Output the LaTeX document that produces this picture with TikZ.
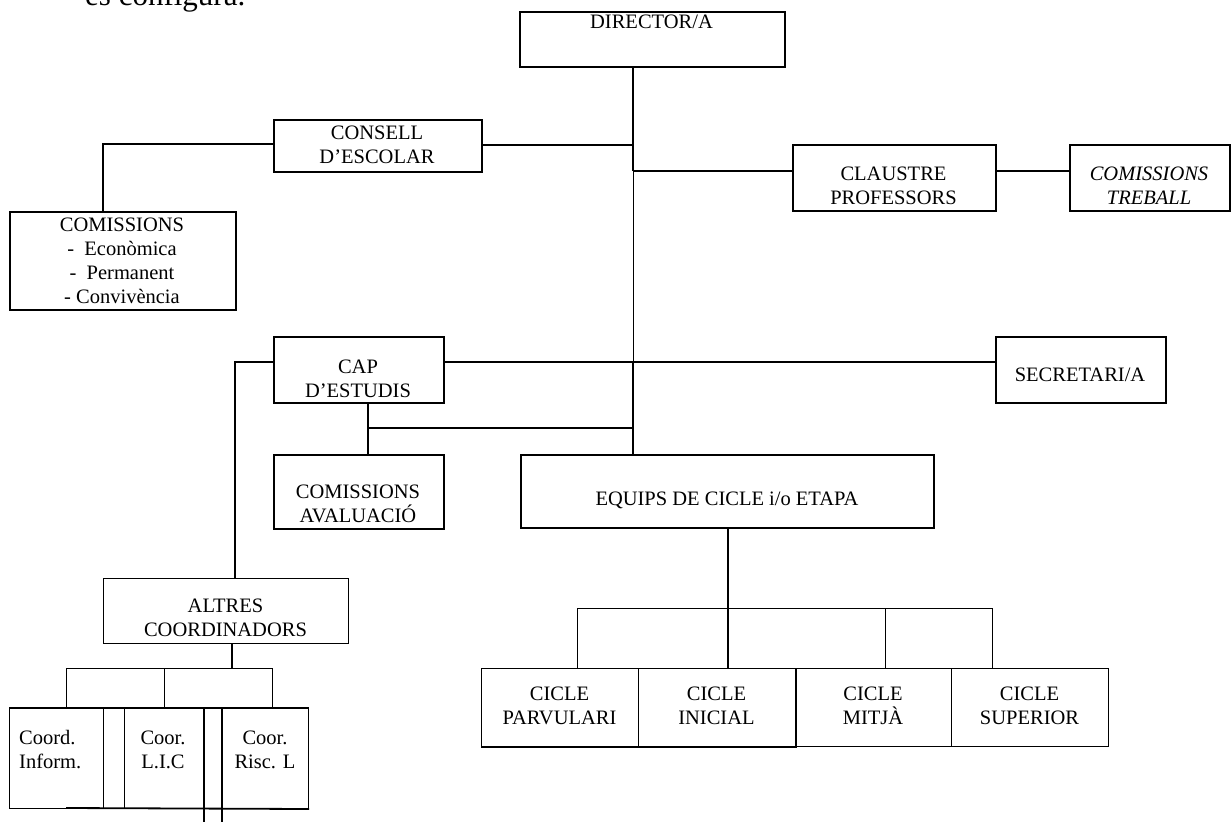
\documentclass[tikz,border=0pt]{standalone}
\usepackage{fontspec}
\setmainfont{Liberation Serif}
\begin{document}
\begin{tikzpicture}[x=1pt,y=-1pt,
  thk/.style={line width=1.8pt},
  thn/.style={line width=1pt},
  box/.style={draw,thk,inner sep=0pt,anchor=north west},
  tbox/.style={draw,thn,inner sep=0pt,anchor=north west},
  lbl/.style={inner sep=0pt,align=center,font=\fontsize{20.5}{24}\selectfont},
  every node/.style={font=\fontsize{20.5}{24}\selectfont}]
\useasboundingbox (0,0) rectangle (1231,822);
\node[anchor=base west,inner sep=0pt,font=\fontsize{31}{36}\selectfont] (head) at (85,5) {es configura.};
% boxes
\node[box,minimum width=265pt,minimum height=55pt] (dir) at (519,11) {};
\node[lbl,anchor=north] (dirt) at (651.5,15) {DIRECTOR/A};
\node[box,minimum width=208pt,minimum height=52pt] (consell) at (273,119) {};
\node[lbl] (consellt) at (377,145) {CONSELL\\D’ESCOLAR};
\node[box,minimum width=226pt,minimum height=98pt] (com1) at (9,211) {};
\node[lbl] (com1t) at (122,261) {COMISSIONS\\-\enspace Econòmica\\-\enspace Permanent\\- Convivència};
\node[box,minimum width=203pt,minimum height=66pt] (claustre) at (792,144) {};
\node[lbl] (claustret) at (893.5,186) {CLAUSTRE\\PROFESSORS};
\node[box,minimum width=160pt,minimum height=66pt] (treball) at (1069,144) {};
\node[lbl,font=\fontsize{20.5}{24}\selectfont\itshape] (treballt) at (1149,186) {COMISSIONS\\TREBALL};
\node[box,minimum width=170pt,minimum height=66pt] (cap) at (273,336) {};
\node[lbl] (capt) at (358,379) {CAP\\D’ESTUDIS};
\node[box,minimum width=170pt,minimum height=66pt] (secr) at (995,336) {};
\node[lbl] (secrt) at (1080,375) {SECRETARI/A};
\node[box,minimum width=170pt,minimum height=74pt] (aval) at (273,454) {};
\node[lbl] (avalt) at (358,504) {COMISSIONS\\AVALUACIÓ};
\node[box,minimum width=413pt,minimum height=73pt] (equips) at (520,454) {};
\node[lbl] (equipst) at (727,500) {EQUIPS DE CICLE i/o ETAPA};
\node[tbox,minimum width=245pt,minimum height=65pt] (altres) at (103,578) {};
\node[lbl] (altrest) at (225.5,618) {ALTRES\\COORDINADORS};
% cicle boxes
\node[tbox,minimum width=157pt,minimum height=78pt] (c1) at (481,668) {};
\node[tbox,minimum width=157pt,minimum height=78pt] (c2) at (638,668) {};
\node[tbox,minimum width=156pt,minimum height=78pt] (c3) at (795,668) {};
\node[tbox,minimum width=157pt,minimum height=78pt] (c4) at (951,668) {};
\node[lbl] (c1t) at (559.5,706) {CICLE\\PARVULARI};
\node[lbl] (c2t) at (716.5,706) {CICLE\\INICIAL};
\node[lbl] (c3t) at (873,706) {CICLE\\MITJÀ};
\node[lbl] (c4t) at (1029.5,706) {CICLE\\SUPERIOR};
\draw[thk] (c1.south west) -- (c2.south east) -- (c2.north east);
% coordinator boxes
\node[tbox,minimum width=94pt,minimum height=100pt] (k1) at (9,708) {};
\node[tbox,minimum width=21pt,minimum height=100pt] (k2) at (103,708) {};
\node[tbox,minimum width=184pt,minimum height=100pt] (k3) at (124,708) {};
\node[inner sep=0pt,align=left,anchor=west] (k1t) at (19,750) {Coord.\\Inform.};
\node[lbl] (k2t) at (163,750) {Coor.\\L.I.C};
\node[lbl] (k3t) at (265,750) {Coor.\\Risc. L};
\coordinate (kb) at (66,808);
\draw[thk] (kb) -- (k3.south east);
\draw[thk] (k1.north west) -- (k3.north east);
\coordinate (d1) at (204,707);
\coordinate (d2) at (222,707);
\draw[thk] (d1) -- (204,822);
\draw[thk] (d2) -- (222,822);
% trunk
\coordinate (tr0) at (633,66);
\coordinate (tr1) at (633,145);
\coordinate (tr2) at (633,171);
\coordinate (tr3) at (633,362);
\coordinate (tr4) at (633,428);
\coordinate (tr5) at (633,454);
\draw[thk] (tr0) -- (tr2);
\draw[thn] (tr2) -- (tr3);
\draw[thk] (tr3) -- (tr5);
\draw[thk] (consell.east |- tr1) -- (tr1);
\draw[thk] (tr2) -- (claustre.west |- tr2);
\draw[thk] (claustre.east |- tr2) -- (treball.west |- tr2);
\coordinate (cj) at (103,144);
\draw[thk] (consell.west |- cj) -- (cj) -- (com1.north -| cj);
\draw[thk] (cap.east |- tr3) -- (secr.west |- tr3);
\coordinate (aj) at (235,362);
\draw[thk] (cap.west |- aj) -- (aj) -- (altres.north -| aj);
\coordinate (vj) at (368,428);
\draw[thk] (cap.south -| vj) -- (aval.north -| vj);
\draw[thk] (vj) -- (tr4);
% equips to cicles
\coordinate (ej) at (728,608);
\draw[thk] (equips.south -| ej) -- (ej) -- (c2.north -| ej);
\coordinate (b1) at (577,608);
\coordinate (b3) at (885,608);
\coordinate (b4) at (992,608);
\draw[thn] (c1.north -| b1) -- (b1) -- (b4) -- (c4.north -| b4);
\draw[thn] (b3) -- (c3.north -| b3);
% altres to coordinators
\coordinate (aj2) at (232,668);
\coordinate (q1) at (66,668);
\coordinate (q2) at (164,668);
\coordinate (q3) at (272,668);
\draw[thk] (altres.south -| aj2) -- (aj2);
\draw[thn] (k1.north -| q1) -- (q1) -- (q3) -- (k3.north -| q3);
\draw[thn] (q2) -- (k3.north -| q2);
\end{tikzpicture}
\end{document}
